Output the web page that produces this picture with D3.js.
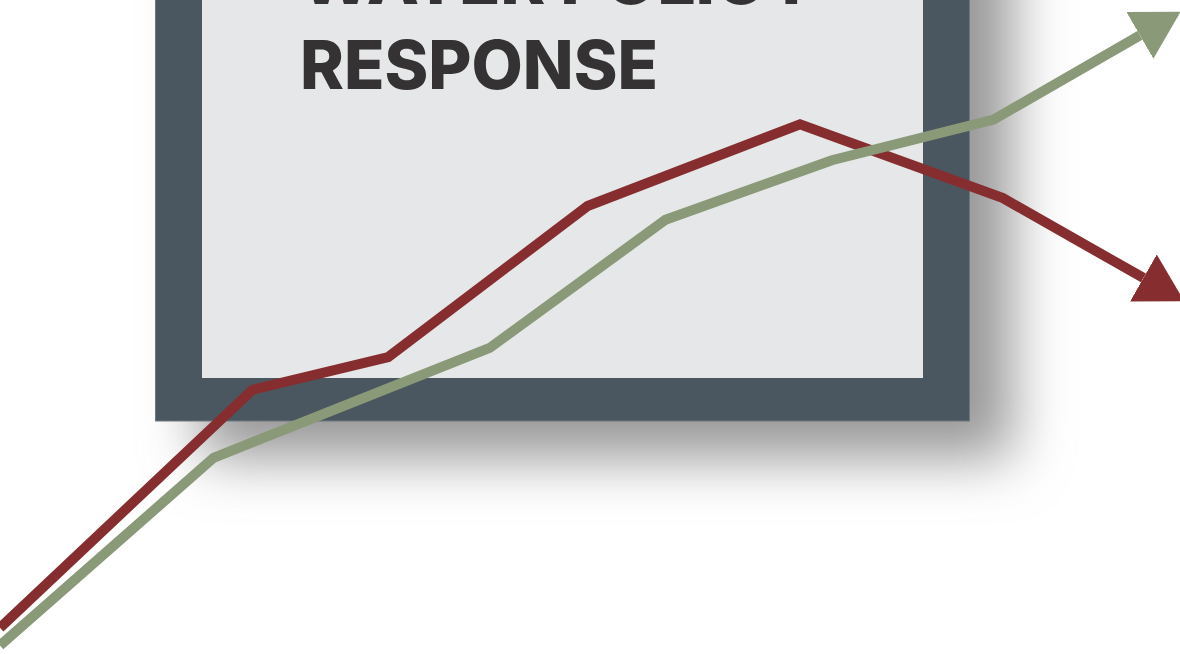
<!DOCTYPE html>
<html>
<head>
<meta charset="utf-8">
<script src="https://cdn.jsdelivr.net/npm/d3@7"></script>
<style>
  html, body { margin: 0; padding: 0; background: #ffffff; }
  svg { display: block; }
</style>
</head>
<body>
<svg id="chart" width="1180" height="654"></svg>
<script>
// Title lines shown on the board
const titleLines = ["WATER POLICY", "RESPONSE"];

// Two trend series on a 0–100 by 0–100 grid
const pressureX = [0, 21.4, 32.9, 49.8, 67.8, 85.0, 96.9];
const pressureY = [4.0, 40.4, 45.4, 68.5, 81.0, 69.7, 57.5];

const responseX = [0, 18.1, 41.5, 56.4, 70.5, 84.2, 96.6];
const responseY = [1.3, 30.0, 46.8, 66.4, 75.5, 81.7, 94.6];

const W = 1180, H = 654;
const svg = d3.select("#chart");

const x = d3.scaleLinear().domain([0, 100]).range([0, W]);
const y = d3.scaleLinear().domain([0, 100]).range([H, 0]);

const defs = svg.append("defs");

// Soft drop shadow behind the board
defs.append("filter")
  .attr("id", "boardShadow")
  .attr("x", "-30%").attr("y", "-30%")
  .attr("width", "160%").attr("height", "160%")
  .append("feGaussianBlur")
  .attr("stdDeviation", 28);

// Arrowheads for both series
const arrows = [
  { id: "arrowPressure", color: "#862e2f" },
  { id: "arrowResponse", color: "#8a9a78" }
];
arrows.forEach(a => {
  defs.append("marker")
    .attr("id", a.id)
    .attr("markerUnits", "userSpaceOnUse")
    .attr("viewBox", "0 -27 47 54")
    .attr("markerWidth", 47)
    .attr("markerHeight", 54)
    .attr("refX", 0)
    .attr("refY", 0)
    .attr("orient", "auto")
    .append("path")
    .attr("d", "M0,-27L47,0L0,27Z")
    .attr("fill", a.color);
});

// Board: shadow, dark frame, light panel
const board = svg.append("g");
board.append("rect")
  .attr("x", 200).attr("y", -80)
  .attr("width", 812).attr("height", 538)
  .attr("fill", "#979797")
  .attr("filter", "url(#boardShadow)");
board.append("rect")
  .attr("x", 155.5).attr("y", -10)
  .attr("width", 814).attr("height", 431)
  .attr("fill", "#4a5760")
  .attr("stroke", "#6e7880")
  .attr("stroke-width", 1);
board.append("rect")
  .attr("x", 202).attr("y", -10)
  .attr("width", 721).attr("height", 388)
  .attr("fill", "#e6e7e8");

// Title text
board.selectAll("text.title")
  .data(titleLines)
  .join("text")
  .attr("class", "title")
  .attr("x", 300)
  .attr("y", (d, i) => 4 + i * 85)
  .attr("fill", "#353233")
  .attr("font-family", "Inter, 'Open Sans', sans-serif")
  .attr("font-weight", 800)
  .attr("font-size", 68)
  .attr("textLength", (d, i) => i === 1 ? 358 : null)
  .attr("lengthAdjust", "spacingAndGlyphs")
  .text(d => d);

// Trend lines
const line = d3.line()
  .x(d => x(d[0]))
  .y(d => y(d[1]))
  .curve(d3.curveLinear);

const series = [
  { xs: pressureX, ys: pressureY, color: "#862e2f", marker: "arrowPressure" },
  { xs: responseX, ys: responseY, color: "#8a9a78", marker: "arrowResponse" }
];

svg.append("g")
  .selectAll("path")
  .data(series)
  .join("path")
  .attr("d", s => line(s.xs.map((v, i) => [v, s.ys[i]])))
  .attr("fill", "none")
  .attr("stroke", s => s.color)
  .attr("stroke-width", 10)
  .attr("stroke-linejoin", "miter")
  .attr("marker-end", s => `url(#${s.marker})`);
</script>
</body>
</html>
